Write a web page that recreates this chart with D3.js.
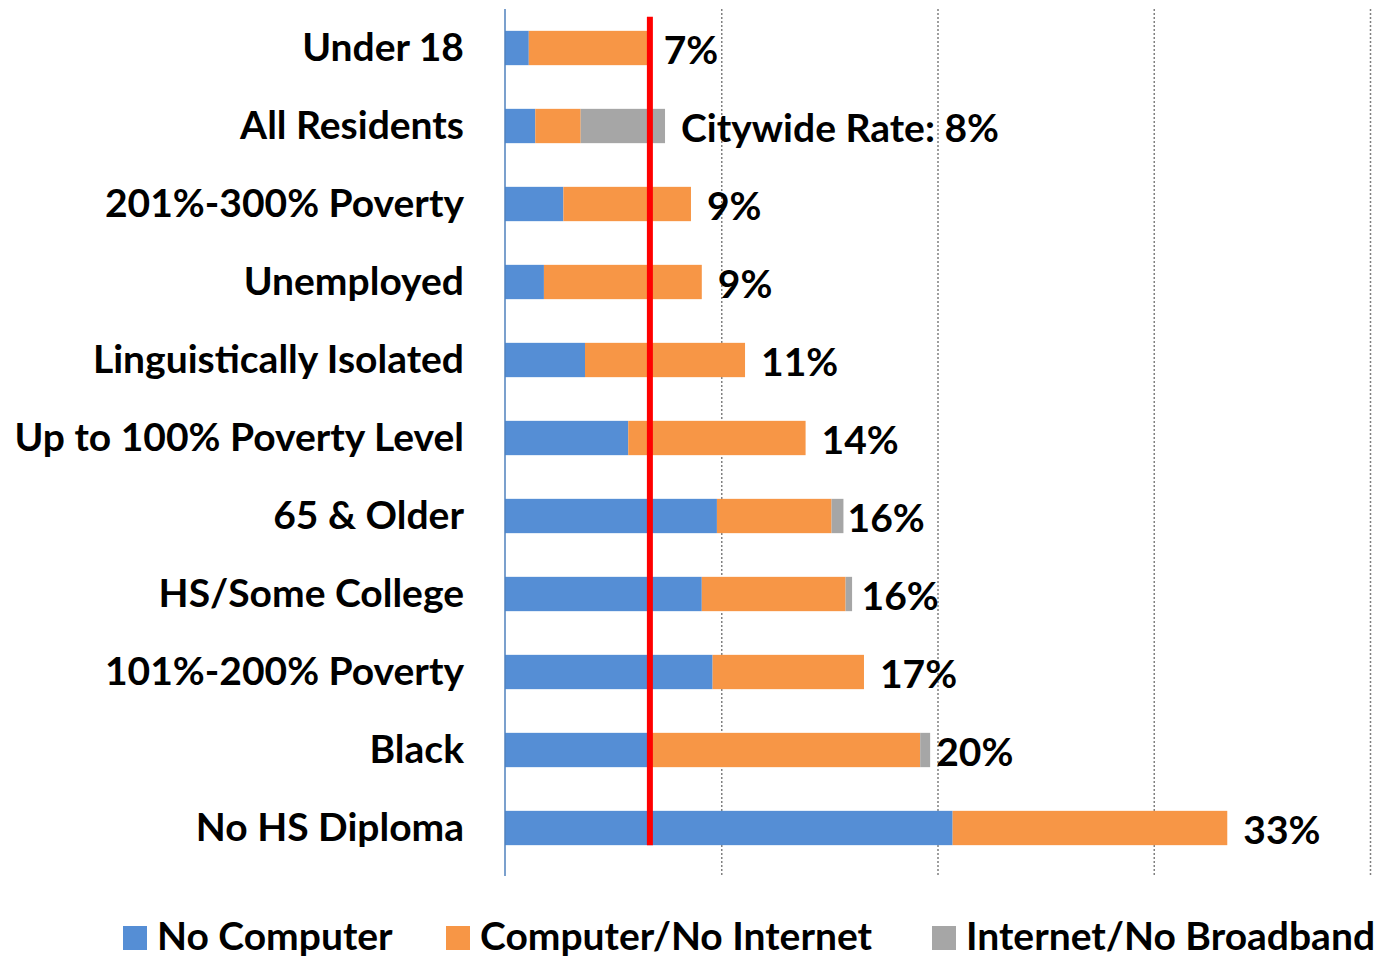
<!DOCTYPE html>
<html>
<head>
<meta charset="utf-8">
<script src="https://cdn.jsdelivr.net/npm/d3@7"></script>
<style>
  body { margin: 0; background: #fff; }
  svg text { font-family: Lato, "Open Sans", sans-serif; font-weight: 700; fill: #000; }
</style>
</head>
<body>
<div id="chart"></div>
<script>
// data (percent of residents)
let categories = ["Under 18", "All Residents", "201%-300% Poverty", "Unemployed",
    "Linguistically Isolated", "Up to 100% Poverty Level", "65 & Older",
    "HS/Some College", "101%-200% Poverty", "Black", "No HS Diploma"];
let noComputer = [1.1, 1.4, 2.7, 1.8, 3.7, 5.7, 9.8, 9.1, 9.6, 6.6, 20.7];
let computerNoInternet = [5.5, 2.1, 5.9, 7.3, 7.4, 8.2, 5.3, 6.65, 7.0, 12.6, 12.7];
let internetNoBroadband = [0, 3.9, 0, 0, 0, 0, 0.55, 0.3, 0, 0.46, 0];
let totalLabels = ["7%", "Citywide Rate: 8%", "9%", "9%", "11%", "14%", "16%", "16%", "17%", "20%", "33%"];
let seriesNames = ["No Computer", "Computer/No Internet", "Internet/No Broadband"];
let seriesColors = ["#558ed5", "#f79646", "#a6a6a6"];
let referenceRate = 6.7;   // red marker line
let xTicks = [10, 20, 30, 40];

let W = 1386, H = 959;
let margin = { top: 9, left: 505, right: 16, bottom: 92 };
let fontSize = "39px";

let svg = d3.select("#chart").append("svg")
    .attr("width", W).attr("height", H);

let x = d3.scaleLinear().domain([0, 40]).range([margin.left, W - margin.right]);
let y = d3.scaleBand().domain(categories)
    .range([margin.top, H - margin.bottom]).paddingInner(0.56).paddingOuter(0.28);

let rows = categories.map((c, i) => ({
    cat: c, label: totalLabels[i],
    vals: [noComputer[i], computerNoInternet[i], internetNoBroadband[i]]
}));

// gridlines
svg.append("g").selectAll("line").data(xTicks).join("line")
    .attr("x1", d => x(d) + 0.5).attr("x2", d => x(d) + 0.5)
    .attr("y1", margin.top).attr("y2", H - margin.bottom + 9)
    .attr("stroke", "#808080").attr("stroke-width", 1.5)
    .attr("stroke-dasharray", "2,2");

// stacked bars
let stack = d3.stack().keys([0, 1, 2]).value((d, k) => d.vals[k]);
let layers = stack(rows);
svg.append("g").selectAll("g").data(layers).join("g")
    .attr("fill", (d, i) => seriesColors[i])
    .selectAll("rect").data(d => d).join("rect")
        .attr("x", d => x(d[0]))
        .attr("width", d => Math.max(0, x(d[1]) - x(d[0])))
        .attr("y", d => y(d.data.cat))
        .attr("height", y.bandwidth());

// vertical axis line
svg.append("line")
    .attr("x1", margin.left).attr("x2", margin.left)
    .attr("y1", margin.top).attr("y2", H - margin.bottom + 9)
    .attr("stroke", "#4f81bd").attr("stroke-width", 1.5);

// category labels
svg.append("g").selectAll("text").data(rows).join("text")
    .attr("x", margin.left - 41)
    .attr("y", d => y(d.cat) + y.bandwidth() / 2)
    .attr("dy", "0.34em")
    .attr("text-anchor", "end")
    .style("font-size", fontSize)
    .text(d => d.cat);

// red reference line
svg.append("line")
    .attr("x1", x(referenceRate)).attr("x2", x(referenceRate))
    .attr("y1", y(categories[0]) - 14)
    .attr("y2", y(categories[categories.length - 1]) + y.bandwidth())
    .attr("stroke", "#ff0000").attr("stroke-width", 6);

// value labels (sit after the orange part unless the grey part is large)
svg.append("g").selectAll("text").data(rows).join("text")
    .attr("x", d => {
        let end = d.vals[2] > 1 ? d.vals[0] + d.vals[1] + d.vals[2] : d.vals[0] + d.vals[1];
        return x(end) + 16;
    })
    .attr("y", d => y(d.cat) + y.bandwidth() / 2)
    .attr("dy", "0.4em")
    .style("font-size", fontSize)
    .text(d => d.label);

// legend
let legendX = [123, 446, 932];
let lg = svg.append("g").selectAll("g").data(seriesNames).join("g")
    .attr("transform", (d, i) => "translate(" + legendX[i] + ",926)");
lg.append("rect").attr("width", 24).attr("height", 24)
    .attr("fill", (d, i) => seriesColors[i]);
lg.append("text").attr("x", 34).attr("y", 24)
    .style("font-size", fontSize)
    .text(d => d);
</script>
</body>
</html>
